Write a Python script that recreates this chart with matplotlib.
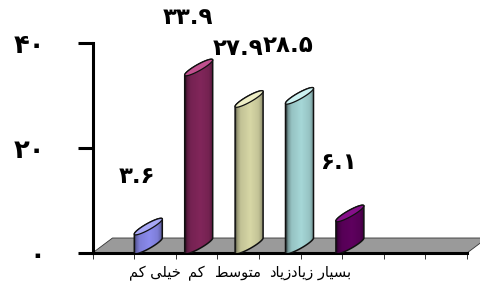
import matplotlib
matplotlib.use('Agg')
import numpy as np
import matplotlib.pyplot as plt
from matplotlib.patches import Polygon
from matplotlib import font_manager
from matplotlib.ft2font import FT2Font
from matplotlib.colors import to_rgb

# ---------------- data ----------------
categories = ['خیلی کم', 'کم', 'متوسط', 'زیاد', 'بسیار زیاد']
values = [3.6, 33.9, 27.9, 28.5, 6.1]
value_labels = ['۳.۶', '۳۳.۹', '۲۷.۹', '۲۸.۵', '۶.۱']
ytick_values = [0, 20, 40]
ytick_labels = ['۰', '۲۰', '۴۰']

body_colors = ['#8484E2', '#7B2456', '#CDCD9E', '#9ECDCD', '#5A005A']
cap_colors = ['#A8A8F6', '#C0508E', '#EEEEC6', '#CDF2F2', '#86108A']

FAM = 'DejaVu Sans'

# ---------------- simple Persian shaping ----------------
def charmap(weight):
    p = font_manager.findfont(font_manager.FontProperties(family=FAM, weight=weight))
    return set(FT2Font(p).get_charmap().keys())

cmap_reg = charmap('normal')

FORMS = {
    'ا': ('\uFE8D', '\uFE8E', None, None),
    'ب': ('\uFE8F', '\uFE90', '\uFE91', '\uFE92'),
    'ت': ('\uFE95', '\uFE96', '\uFE97', '\uFE98'),
    'خ': ('\uFEA5', '\uFEA6', '\uFEA7', '\uFEA8'),
    'د': ('\uFEA9', '\uFEAA', None, None),
    'ر': ('\uFEAD', '\uFEAE', None, None),
    'ز': ('\uFEAF', '\uFEB0', None, None),
    'س': ('\uFEB1', '\uFEB2', '\uFEB3', '\uFEB4'),
    'ط': ('\uFEC1', '\uFEC2', '\uFEC3', '\uFEC4'),
    'ل': ('\uFEDD', '\uFEDE', '\uFEDF', '\uFEE0'),
    'م': ('\uFEE1', '\uFEE2', '\uFEE3', '\uFEE4'),
    'و': ('\uFEED', '\uFEEE', None, None),
    'ک': ('\uFB8E', '\uFB8F', '\uFB90', '\uFB91'),
    'ی': ('\uFBFC', '\uFBFD', '\uFBFE', '\uFBFF'),
}
FALLBACK = {
    'ک': ('\uFED9', '\uFEDA', '\uFEDB', '\uFEDC'),
    'ی': ('\uFEEF', '\uFEF0', '\uFEF3', '\uFEF4'),
}
for k, fb in FALLBACK.items():
    if any(ord(c) not in cmap_reg for c in FORMS[k]):
        FORMS[k] = fb


def shape(txt):
    out = []
    n = len(txt)
    for i, ch in enumerate(txt):
        if ch not in FORMS:
            out.append(ch)
            continue
        f = FORMS[ch]
        prev = txt[i - 1] if i > 0 else None
        nxt = txt[i + 1] if i < n - 1 else None
        jp = prev in FORMS and FORMS[prev][2] is not None
        jn = nxt in FORMS and f[2] is not None
        if jp and jn:
            g = f[3]
        elif jp:
            g = f[1]
        elif jn:
            g = f[2]
        else:
            g = f[0]
        out.append(g)
    return ''.join(out)[::-1]


# ---------------- figure ----------------
W, H = 481, 291
fig = plt.figure(figsize=(W / 100, H / 100), dpi=100)
ax_l, ax_r, ax_b, ax_t = 92.5, 467.0, 253.0, 43.0
ax = fig.add_axes([ax_l / W, (H - ax_b) / H, (ax_r - ax_l) / W, (ax_b - ax_t) / H])
n_slots = 9
ax.set_xlim(0, n_slots)
ax.set_ylim(0, 40)
xu = (ax_r - ax_l) / n_slots      # px per x unit
yu = (ax_b - ax_t) / 40.0         # px per y unit

depth_dx = 20 / xu
depth_dy = 15 / yu

# floor
floor = Polygon([(0, 0), (n_slots, 0), (n_slots + depth_dx, depth_dy), (depth_dx, depth_dy)],
                closed=True, fc='#9A9A9A', ec='#333333', lw=0.6, clip_on=False, zorder=1)
ax.add_patch(floor)

# cylinders
bar_w = 28 / xu
shear = 15 / yu
half_th = 3.5 / yu
first_center = (148.3 - ax_l) / xu
step = 50.4 / xu
centers = first_center + step * np.arange(len(values))

t = np.linspace(0, 2 * np.pi, 200)
u = np.linspace(0, 1, 64)
prof = np.interp(u, [0, 0.08, 0.2, 0.55, 0.85, 1.0], [0.35, 0.75, 0.95, 1.05, 0.95, 0.7])

for i, (cx, v) in enumerate(zip(centers, values)):
    def ell(cy, tt):
        return np.column_stack([cx + bar_w / 2 * np.cos(tt),
                                cy + shear / 2 * np.cos(tt) + half_th * np.sin(tt)])
    cb = shear / 2
    ct = v + shear / 2
    lower = ell(cb, t[(t >= np.pi)])
    upper = ell(ct, t[(t <= np.pi)])
    body_pts = np.vstack([lower, upper])
    body = Polygon(body_pts, closed=True, fc='none', ec='none', zorder=3)
    ax.add_patch(body)
    base = np.array(to_rgb(body_colors[i]))
    grad = np.clip(base[None, :] * prof[:, None], 0, 1)[None, :, :]
    im = ax.imshow(grad, extent=[cx - bar_w / 2, cx + bar_w / 2, -1, v + shear + 1],
                   aspect='auto', interpolation='bilinear', zorder=3)
    im.set_clip_path(body)
    outline = Polygon(body_pts, closed=True, fc='none', ec='#111111', lw=1.1, zorder=4)
    ax.add_patch(outline)
    cap = Polygon(ell(ct, t), closed=True, fc=cap_colors[i], ec='#111111', lw=0.9, zorder=5)
    ax.add_patch(cap)
    ax.annotate(value_labels[i], xy=(cx, v), xytext=(-11 * 0.72, 58 * 0.72),
                textcoords='offset points', ha='center', va='center',
                fontsize=16.5, fontweight='bold', family=FAM, zorder=6)

ax.set_xlim(0, n_slots)
ax.set_ylim(0, 40)

# axes styling
for sp in ['top', 'right']:
    ax.spines[sp].set_visible(False)
for sp in ['left', 'bottom']:
    ax.spines[sp].set_linewidth(2.2)
    ax.spines[sp].set_color('black')
    ax.spines[sp].set_zorder(2.5)

ax.set_yticks(ytick_values)
ax.set_yticklabels(ytick_labels, fontsize=18.5, fontweight='bold', family=FAM)
ax.tick_params(axis='y', length=10.8, width=2.2, pad=23, direction='out', color='black')

ax.set_xticks(np.arange(n_slots + 1))
ax.set_xticklabels([])
ax.tick_params(axis='x', which='major', length=4, width=0.7, color='#333333')
ax.set_xticks(np.arange(len(categories)) + 1.5, minor=True)
ax.set_xticklabels([shape(c) for c in categories], minor=True, fontsize=10.5, family=FAM)
ax.tick_params(axis='x', which='minor', length=0, pad=9)

ax.patch.set_alpha(0)
fig.savefig('out.png', dpi=100)
